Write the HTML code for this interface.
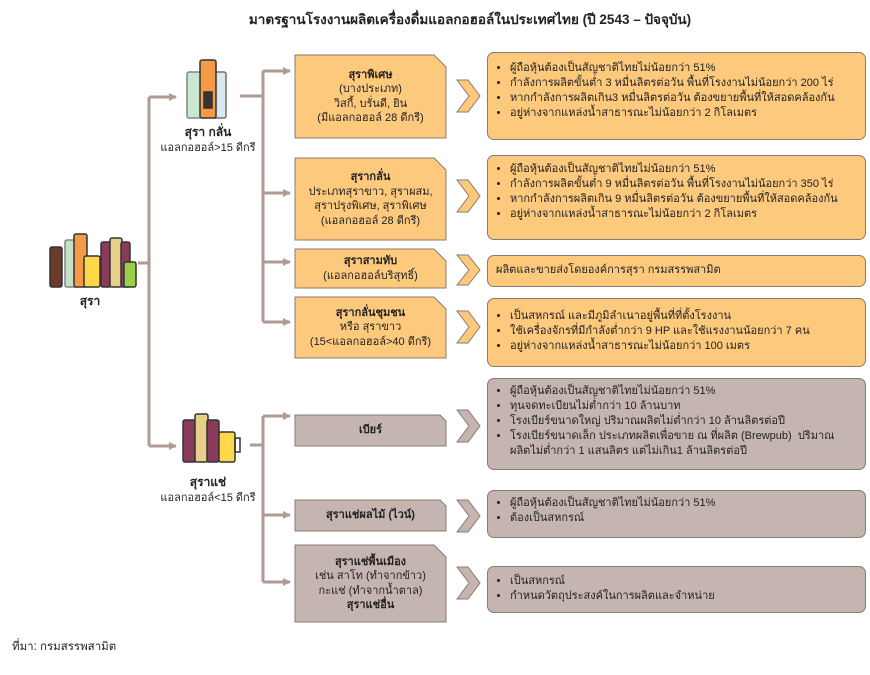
<!DOCTYPE html>
<html><head><meta charset="utf-8">
<style>
body{margin:0;width:870px;height:675px;background:#fff;position:relative;overflow:hidden;font-family:"Liberation Sans","Noto Sans CJK SC",sans-serif;color:#222}
.t{position:absolute;font-size:11px;line-height:15px;white-space:nowrap}
.c{text-align:center}
.b{font-weight:bold}
.rb{position:absolute;border:1px solid #8a7a70;border-radius:7px;box-sizing:border-box;font-size:11px;line-height:15px;padding:4px 8px;white-space:nowrap}
.o{background:#fdc97c}
.g{background:#c5b5b1}
.rb ul{margin:0;padding-left:14px}
.rb li{margin:0}
.lb{position:absolute;display:flex;flex-direction:column;justify-content:center;align-items:center;font-size:11px;line-height:14.5px;text-align:center;white-space:nowrap}
</style></head><body>
<svg width="870" height="675" style="position:absolute;left:0;top:0">
<defs><marker id="a" markerWidth="8" markerHeight="8" refX="7" refY="4" orient="auto" markerUnits="userSpaceOnUse"><path d="M0,0 L8,4 L0,8z" fill="#b09a94"/></marker></defs>
<g stroke="#b09a94" stroke-width="3" fill="none">
<path d="M138,263 H149"/>
<path d="M149,97 V446"/>
<path d="M149,97 H176" marker-end="url(#a)"/>
<path d="M149,446 H176" marker-end="url(#a)"/>
<path d="M240,96 H263"/>
<path d="M263,71 V322"/>
<path d="M263,71 H290" marker-end="url(#a)"/>
<path d="M263,193 H290" marker-end="url(#a)"/>
<path d="M263,262 H290" marker-end="url(#a)"/>
<path d="M263,322 H290" marker-end="url(#a)"/>
<path d="M250,445 H263"/>
<path d="M263,416 V582"/>
<path d="M263,416 H290" marker-end="url(#a)"/>
<path d="M263,515 H290" marker-end="url(#a)"/>
<path d="M263,582 H290" marker-end="url(#a)"/>
</g>
<g stroke="#8a7a70" stroke-width="1">
<polygon points="295,55 434,55 446,67 446,138 295,138" fill="#fdc97c"/>
<polygon points="295,158 434,158 446,170 446,240 295,240" fill="#fdc97c"/>
<polygon points="295,249 434,249 446,261 446,288 295,288" fill="#fdc97c"/>
<polygon points="295,297 434,297 446,309 446,358 295,358" fill="#fdc97c"/>
<polygon points="295,415 440,415 446,421 446,446 295,446" fill="#c5b5b1"/>
<polygon points="295,500 440,500 446,506 446,531 295,531" fill="#c5b5b1"/>
<polygon points="295,545 434,545 446,557 446,622 295,622" fill="#c5b5b1"/>
</g>
<g stroke="#8a7a70" stroke-width="1">
<polygon points="457,80 468,80 480,96 468,112 457,112 469,96" fill="#fdc97c"/>
<polygon points="457,180 468,180 480,196 468,212 457,212 469,196" fill="#fdc97c"/>
<polygon points="457,255 468,255 480,270 468,285 457,285 469,270" fill="#fdc97c"/>
<polygon points="457,311 468,311 480,327 468,343 457,343 469,327" fill="#fdc97c"/>
<polygon points="457,410 468,410 480,426 468,442 457,442 469,426" fill="#c5b5b1"/>
<polygon points="457,500 468,500 480,516 468,532 457,532 469,516" fill="#c5b5b1"/>
<polygon points="457,567 468,567 480,583 468,599 457,599 469,583" fill="#c5b5b1"/>
</g>
<g stroke="#333" stroke-width="1.5">
<rect x="50" y="247" width="12" height="40" rx="2" fill="#6b3a2a"/>
<rect x="65" y="240" width="12" height="47" rx="2" fill="#9fcfa0" opacity=".6"/>
<rect x="74" y="234" width="13" height="53" rx="2" fill="#f59a45"/>
<rect x="84" y="256" width="16" height="31" rx="2" fill="#ffd84a"/>
<rect x="101" y="242" width="10" height="45" rx="2" fill="#8a3a5a"/>
<rect x="110" y="238" width="12" height="49" rx="2" fill="#e8d08a"/>
<rect x="121" y="242" width="9" height="45" rx="2" fill="#8a3a5a"/>
<rect x="124" y="262" width="12" height="25" rx="2" fill="#9ad04a"/>
<rect x="187" y="72" width="14" height="46" rx="2" fill="#a8d8b0" opacity=".6"/>
<rect x="212" y="72" width="14" height="46" rx="2" fill="#c8e0ef" opacity=".7"/>
<rect x="200" y="60" width="16" height="58" rx="2" fill="#f59a45"/>
<rect x="204" y="92" width="8" height="16" fill="#333"/>
<rect x="183" y="420" width="13" height="42" rx="2" fill="#8a3a5a"/>
<rect x="195" y="414" width="13" height="48" rx="2" fill="#e8d08a"/>
<rect x="207" y="420" width="12" height="42" rx="2" fill="#8a3a5a"/>
<rect x="219" y="432" width="16" height="30" rx="2" fill="#ffd84a"/>
<rect x="235" y="438" width="5" height="14" fill="none"/>
</g>
</svg>
<div class="t b c" style="left:180px;top:11px;width:580px;font-size:13.5px;line-height:18px">มาตรฐานโรงงานผลิตเครื่องดื่มแอลกอฮอล์ในประเทศไทย (ปี 2543 – ปัจจุบัน)</div>
<div class="t b c" style="left:60px;top:294px;width:60px;font-size:12px">สุรา</div>
<div class="t c" style="left:150px;top:125px;width:116px"><b style="font-size:12px">สุรา กลั่น</b><br>แอลกอฮอล์&gt;15 ดีกรี</div>
<div class="t c" style="left:150px;top:475px;width:116px"><b style="font-size:12px">สุราแช่</b><br>แอลกอฮอล์&lt;15 ดีกรี</div>

<div class="lb" style="left:295px;top:55px;width:151px;height:83px"><b>สุราพิเศษ</b>(บางประเภท)<br>วิสกี้, บรั่นดี, ยิน<br>(มีแอลกอฮอล์ 28 ดีกรี)</div>
<div class="lb" style="left:295px;top:158px;width:151px;height:82px"><b>สุรากลั่น</b>ประเภทสุราขาว, สุราผสม,<br>สุราปรุงพิเศษ, สุราพิเศษ<br>(แอลกอฮอล์ 28 ดีกรี)</div>
<div class="lb" style="left:295px;top:249px;width:151px;height:39px"><b>สุราสามทับ</b>(แอลกอฮอล์บริสุทธิ์)</div>
<div class="lb" style="left:295px;top:297px;width:151px;height:61px"><b>สุรากลั่นชุมชน</b>หรือ สุราขาว<br>(15&lt;แอลกอฮอล์&gt;40 ดีกรี)</div>
<div class="lb" style="left:295px;top:415px;width:151px;height:31px"><b>เบียร์</b></div>
<div class="lb" style="left:295px;top:500px;width:151px;height:31px"><b>สุราแช่ผลไม้ (ไวน์)</b></div>
<div class="lb" style="left:295px;top:545px;width:151px;height:77px"><b>สุราแช่พื้นเมือง</b>เช่น สาโท (ทำจากข้าว)<br>กะแช่ (ทำจากน้ำตาล)<br><b>สุราแช่อื่น</b></div>

<div class="rb o" style="left:487px;top:52px;width:379px;height:88px;padding-top:8px"><ul><li>ผู้ถือหุ้นต้องเป็นสัญชาติไทยไม่น้อยกว่า 51%</li><li>กำลังการผลิตขั้นต่ำ 3 หมื่นลิตรต่อวัน พื้นที่โรงงานไม่น้อยกว่า 200 ไร่</li><li>หากกำลังการผลิตเกิน3 หมื่นลิตรต่อวัน ต้องขยายพื้นที่ให้สอดคล้องกัน</li><li>อยู่ห่างจากแหล่งน้ำสาธารณะไม่น้อยกว่า 2 กิโลเมตร</li></ul></div>
<div class="rb o" style="left:487px;top:155px;width:379px;height:85px;padding-top:6px"><ul><li>ผู้ถือหุ้นต้องเป็นสัญชาติไทยไม่น้อยกว่า 51%</li><li>กำลังการผลิตขั้นต่ำ 9 หมื่นลิตรต่อวัน พื้นที่โรงงานไม่น้อยกว่า 350 ไร่</li><li>หากกำลังการผลิตเกิน 9 หมื่นลิตรต่อวัน ต้องขยายพื้นที่ให้สอดคล้องกัน</li><li>อยู่ห่างจากแหล่งน้ำสาธารณะไม่น้อยกว่า 2 กิโลเมตร</li></ul></div>
<div class="rb o" style="left:487px;top:255px;width:379px;height:32px;padding-top:7px">ผลิตและขายส่งโดยองค์การสุรา กรมสรรพสามิต</div>
<div class="rb o" style="left:487px;top:298px;width:379px;height:69px;padding-top:10px"><ul><li>เป็นสหกรณ์ และมีภูมิลำเนาอยู่พื้นที่ที่ตั้งโรงงาน</li><li>ใช้เครื่องจักรที่มีกำลังต่ำกว่า 9 HP และใช้แรงงานน้อยกว่า 7 คน</li><li>อยู่ห่างจากแหล่งน้ำสาธารณะไม่น้อยกว่า 100 เมตร</li></ul></div>
<div class="rb g" style="left:487px;top:378px;width:379px;height:92px;padding-top:5px"><ul><li>ผู้ถือหุ้นต้องเป็นสัญชาติไทยไม่น้อยกว่า 51%</li><li>ทุนจดทะเบียนไม่ต่ำกว่า 10 ล้านบาท</li><li>โรงเบียร์ขนาดใหญ่ ปริมาณผลิตไม่ต่ำกว่า 10 ล้านลิตรต่อปี</li><li>โรงเบียร์ขนาดเล็ก ประเภทผลิตเพื่อขาย ณ ที่ผลิต (Brewpub) &nbsp;ปริมาณ<br>ผลิตไม่ต่ำกว่า 1 แสนลิตร แต่ไม่เกิน1 ล้านลิตรต่อปี</li></ul></div>
<div class="rb g" style="left:487px;top:490px;width:379px;height:48px;padding-top:5px"><ul><li>ผู้ถือหุ้นต้องเป็นสัญชาติไทยไม่น้อยกว่า 51%</li><li>ต้องเป็นสหกรณ์</li></ul></div>
<div class="rb g" style="left:487px;top:566px;width:379px;height:47px;padding-top:7px"><ul><li>เป็นสหกรณ์</li><li>กำหนดวัตถุประสงค์ในการผลิตและจำหน่าย</li></ul></div>
<div class="t" style="left:12px;top:640px;font-size:11.5px">ที่มา: กรมสรรพสามิต</div>
</body></html>
